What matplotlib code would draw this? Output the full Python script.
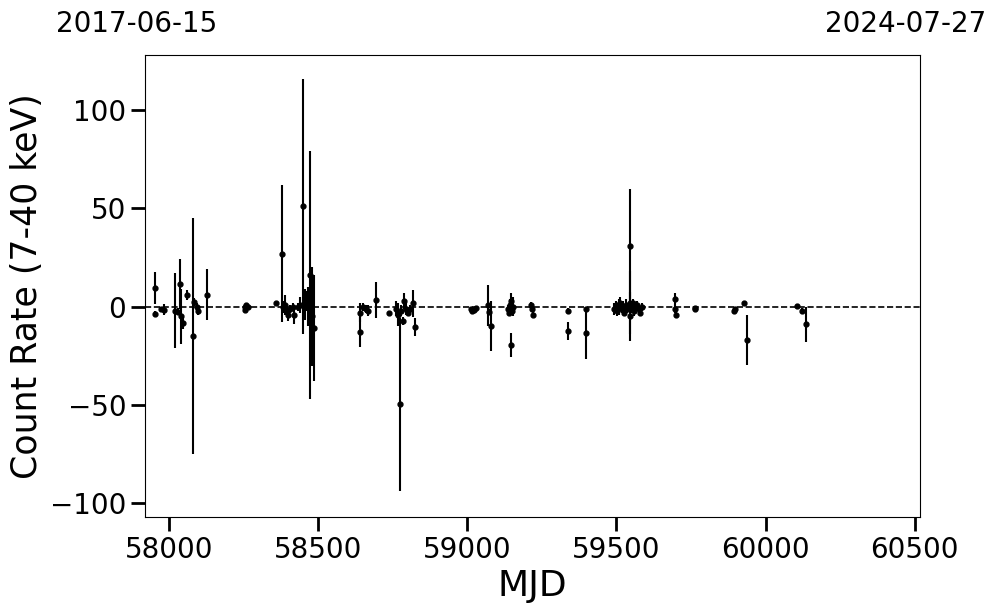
import numpy as np
import matplotlib
matplotlib.use("Agg")
import matplotlib.pyplot as plt

mjd = [57954, 57954, 57971, 57984, 58020, 58028, 58035, 58040, 58045, 58061,
       58079, 58085, 58092, 58098, 58126,
       58253, 58256, 58259, 58266, 58357,
       58377, 58383, 58389, 58394, 58398, 58404, 58414, 58420, 58431, 58438,
       58448, 58454, 58461, 58466, 58473, 58479, 58485,
       58639, 58640, 58649, 58659, 58667, 58693, 58736, 58762, 58767, 58773,
       58777, 58783, 58787, 58793, 58800, 58807, 58817, 58823,
       59011, 59016, 59022, 59028, 59070, 59071, 59078,
       59138, 59141, 59144, 59146, 59147, 59150, 59153,
       59215, 59217, 59219, 59338, 59339, 59397, 59398,
       59492, 59497, 59502, 59507, 59512, 59517, 59522, 59527, 59532, 59537,
       59545, 59546, 59547, 59550, 59555, 59560, 59565, 59570, 59575, 59580, 59585,
       59697, 59698, 59699, 59762, 59765, 59893, 59896, 59927, 59937,
       60105, 60121, 60136]
rate = [9.5, -3.5, -1, -1.5, -2, -2.5, 11.5, -5, -8.5, 6,
        -15, 2.5, 0, -2, 6,
        -1.5, 0, 1, 0, 1.8,
        27, 0, 1, -2, -4.5, -1, 0, -4, 0, 1,
        51, 1, 3, 0, 16, -5, -11,
        -13, -3, 0, -1, -2, 3.3, -3, -1, -4, -49.6,
        -2, -7.5, 3, -1, -3, -1, 1.7, -10.5,
        -1, -2, -1.5, -0.5, 0.6, -2.5, -10,
        -1, -3, 1, -19.5, 3, -2, 0,
        1, -1.3, -4, -2, -12.5, -1, -13.5,
        -1, 1, -2, 0, 2, -1, 0, -3, 1, -1,
        31, 2, -5, 0, 2, -2, 0, 1, -1, -3, 0,
        3.8, -1.3, -4, -0.5, -1, -2, -1, 1.8, -17,
        0.4, -2, -9]
err = [8, 1.5, 1, 3, 19, 2, 12.5, 14, 3, 2.5,
       60, 2, 2, 2, 13,
       1, 1, 1, 0.5, 0.5,
       35, 3, 5, 2, 3, 2, 2, 5, 2, 4,
       65, 8, 5, 10, 63, 25, 27,
       7.5, 5, 2, 2, 3, 9, 0.5, 4, 6, 44,
       3, 2, 4, 3, 2, 2, 7, 4.5,
       1, 1, 1, 1, 10.5, 1.5, 12.7,
       2, 2, 3, 6, 4, 2, 5,
       1.5, 1.5, 1.5, 1.5, 4.5, 1, 13,
       3, 2, 3, 4, 3, 2, 3, 2, 3, 2,
       29, 16, 12.5, 3, 2, 3, 2, 2, 2, 2, 2,
       3, 2, 2, 1, 1, 1.5, 1, 1, 12.7,
       1, 1.5, 9]

start_label = "2017-06-15"
end_label = "2024-07-27"
mjd_start = 57919
mjd_end = 60518

fig = plt.figure(figsize=(9.97, 6.13), dpi=100)
ax = fig.add_axes([145 / 997, 1 - 517 / 613, 775 / 997, 462 / 613])

ax.errorbar(mjd, rate, yerr=err, fmt='o', color='k', ms=3.5,
            elinewidth=1.5, capsize=0)
ax.axhline(0, color='k', ls='--', lw=1.2)

ax.set_xlim(mjd_start, mjd_end)
ax.set_ylim(-107, 128)
ax.set_xticks([58000, 58500, 59000, 59500, 60000, 60500])
ax.set_yticks([-100, -50, 0, 50, 100])
ax.tick_params(axis='both', labelsize=20, length=10, width=2)

ax.set_xlabel('MJD', fontsize=26)
ax.set_ylabel('Count Rate (7-40 keV)', fontsize=25)

ax.text(-0.011, 1.05, start_label, transform=ax.transAxes, ha='center',
        va='baseline', fontsize=20)
ax.text(0.982, 1.05, end_label, transform=ax.transAxes, ha='center',
        va='baseline', fontsize=20)

fig.savefig('out.png', dpi=100)
